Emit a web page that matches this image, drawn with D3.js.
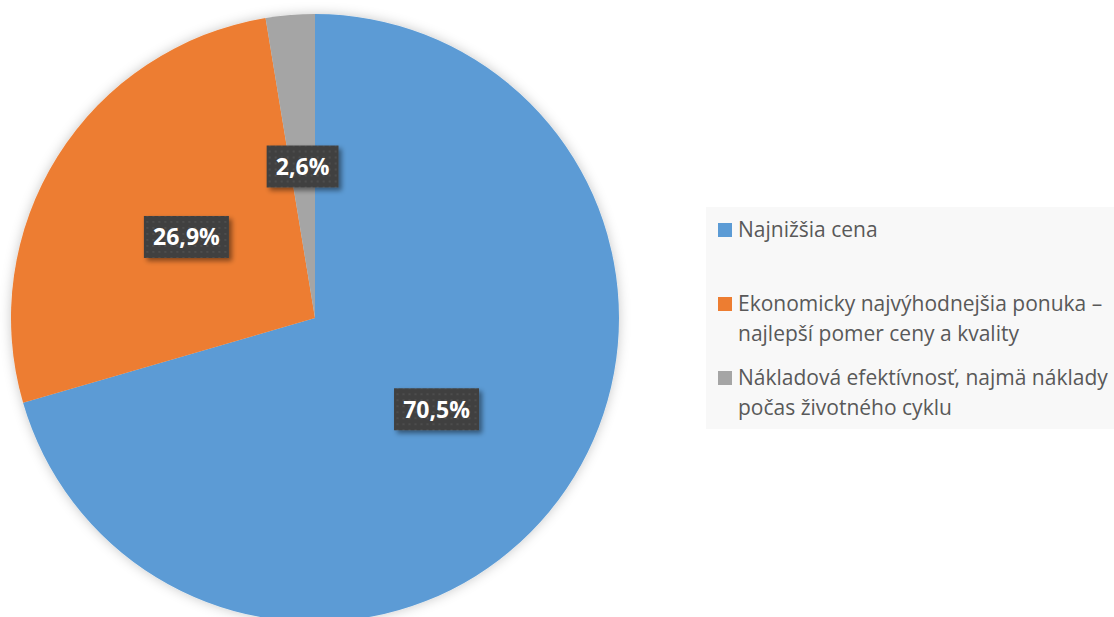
<!DOCTYPE html>
<html>
<head>
<meta charset="utf-8">
<script src="https://cdn.jsdelivr.net/npm/d3@7/dist/d3.min.js"></script>
<style>
  body { margin: 0; background: #fff; }
  svg { display: block; font-family: "Open Sans", sans-serif; }
  .legend-text { fill: #595959; font-size: 21px; }
  .label-text { fill: #fff; font-size: 23px; font-weight: bold; }
</style>
</head>
<body>
<svg id="chart"></svg>
<script>
var categories = ["Najnižšia cena",
    "Ekonomicky najvýhodnejšia ponuka – najlepší pomer ceny a kvality",
    "Nákladová efektívnosť, najmä náklady počas životného cyklu"];
var values = [70.5, 26.9, 2.6];
var valueLabels = ["70,5%", "26,9%", "2,6%"];
var legendLines = [["Najnižšia cena"],
    ["Ekonomicky najvýhodnejšia ponuka –", "najlepší pomer ceny a kvality"],
    ["Nákladová efektívnosť, najmä náklady", "počas životného cyklu"]];
var colors = ["#5B9BD5", "#ED7D31", "#A5A5A5"];

var width = 1114, height = 617;
var cx = 315, cy = 318, radius = 304;

var svg = d3.select("#chart").attr("width", width).attr("height", height);
var defs = svg.append("defs");

// soft shadow around the pie
var f = defs.append("filter").attr("id", "pieShadow")
    .attr("x", "-10%").attr("y", "-10%").attr("width", "120%").attr("height", "120%");
f.append("feGaussianBlur").attr("in", "SourceAlpha").attr("stdDeviation", 6).attr("result", "b");
f.append("feFlood").attr("flood-color", "#000").attr("flood-opacity", 0.22);
f.append("feComposite").attr("in2", "b").attr("operator", "in").attr("result", "s");
var fm = f.append("feMerge");
fm.append("feMergeNode").attr("in", "s");
fm.append("feMergeNode").attr("in", "SourceGraphic");

// shadow for the label boxes
var f2 = defs.append("filter").attr("id", "boxShadow")
    .attr("x", "-20%").attr("y", "-30%").attr("width", "150%").attr("height", "170%");
f2.append("feDropShadow").attr("dx", 3).attr("dy", 3).attr("stdDeviation", 2.5)
    .attr("flood-color", "#000").attr("flood-opacity", 0.45);

// dotted fill of the label boxes
var pat = defs.append("pattern").attr("id", "dots")
    .attr("width", 6).attr("height", 6).attr("patternUnits", "userSpaceOnUse");
pat.append("rect").attr("width", 6).attr("height", 6).attr("fill", "#404040");
pat.append("rect").attr("x", 2).attr("y", 2).attr("width", 2).attr("height", 2).attr("fill", "#4d4d4d");

var pie = d3.pie().sort(null).value(function(d) { return d; });
var arc = d3.arc().innerRadius(0).outerRadius(radius);
var labelArc = d3.arc().innerRadius(radius * 0.5).outerRadius(radius * 0.5);

var arcs = pie(values);

var g = svg.append("g").attr("transform", "translate(" + cx + "," + cy + ")");
g.append("g").attr("filter", "url(#pieShadow)")
  .selectAll("path")
  .data(arcs)
  .enter().append("path")
    .attr("d", arc)
    .attr("fill", function(d, i) { return colors[i]; });

var labels = g.selectAll("g.lbl")
  .data(arcs)
  .enter().append("g")
    .attr("class", "lbl")
    .attr("transform", function(d) { return "translate(" + labelArc.centroid(d) + ")"; });

labels.each(function(d, i) {
    var el = d3.select(this);
    var t = el.append("text")
        .attr("class", "label-text")
        .attr("text-anchor", "middle")
        .attr("dy", "0.36em")
        .text(valueLabels[i]);
    var bb = t.node().getBBox();
    var w = bb.width + 18, h = 42;
    el.insert("rect", "text")
        .attr("x", -w / 2).attr("y", -h / 2)
        .attr("width", w).attr("height", h)
        .attr("fill", "url(#dots)")
        .attr("filter", "url(#boxShadow)");
});

// legend
var legend = svg.append("g").attr("transform", "translate(706,207)");
legend.append("rect")
    .attr("width", 408).attr("height", 222)
    .attr("fill", "#f8f8f8");

var itemY = d3.scalePoint().domain(d3.range(categories.length)).range([23, 171]);
var lineH = 29.5;

var items = legend.selectAll("g.item")
  .data(legendLines)
  .enter().append("g")
    .attr("class", "item")
    .attr("transform", function(d, i) { return "translate(0," + itemY(i) + ")"; });

items.append("rect")
    .attr("x", 12).attr("y", -7)
    .attr("width", 14).attr("height", 14)
    .attr("fill", function(d, i) { return colors[i]; });

items.append("text")
    .attr("class", "legend-text")
    .attr("x", 32)
    .selectAll("tspan")
    .data(function(d) { return d; })
    .enter().append("tspan")
      .attr("x", 32)
      .attr("y", function(d, j) { return j * lineH; })
      .attr("dy", "0.35em")
      .text(function(d) { return d; });
</script>
</body>
</html>
